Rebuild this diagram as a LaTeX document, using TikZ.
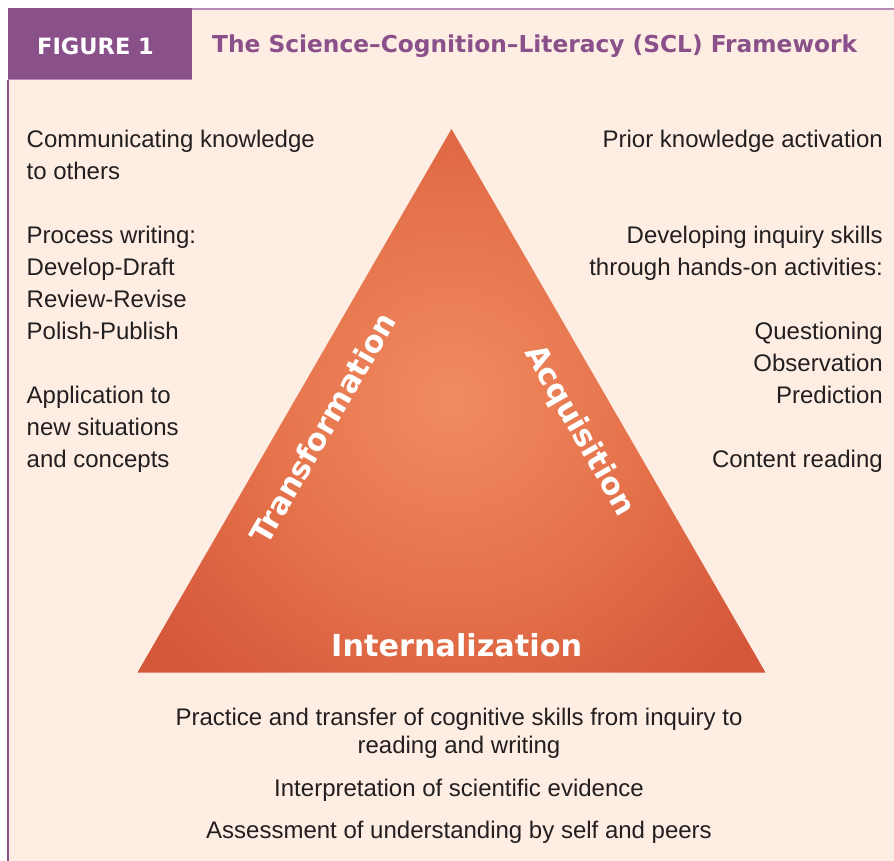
\documentclass[tikz,border=0pt]{standalone}
\usepackage{fontspec}
\setmainfont{Liberation Sans}
\newfontfamily\boldfont{DejaVu Sans Bold}
\definecolor{peach}{HTML}{FDEDE3}
\definecolor{purp}{HTML}{8A5089}
\definecolor{purplight}{HTML}{B88CB4}
\definecolor{txt}{HTML}{231F20}
\definecolor{tricen}{HTML}{F18B61}
\definecolor{trimid}{HTML}{E4714A}
\definecolor{triout}{HTML}{D4573A}
\pgfdeclareradialshading{trishade}{\pgfpoint{0bp}{0bp}}{color(0bp)=(tricen); color(10bp)=(trimid); color(19bp)=(triout); color(25bp)=(triout); color(50bp)=(triout)}
\tikzset{
  body/.style={inner sep=0pt, text=txt, font=\fontsize{24}{28}\selectfont},
  lft/.style={body, anchor=base west},
  rgt/.style={body, anchor=base east},
  ctr/.style={body, anchor=base},
  sidelabel/.style={inner sep=0pt, text=white, font=\boldfont\fontsize{30.3}{36}\selectfont},
}
\begin{document}
\begin{tikzpicture}[x=1pt,y=-1pt]
\useasboundingbox (0,0) rectangle (894,861);
\fill[white] (0,0) rectangle (894,861);
\fill[peach] (8,8) rectangle (894,861);
% header
\fill[purp] (8,8) rectangle (192,80);
\draw[purplight, line width=1pt] (8,80) -- (192,80);
\draw[purplight, line width=1.8pt] (192,9) -- (894,9);
\draw[purp, line width=2pt] (8.3,80) -- (8.3,861);
\node[inner sep=0pt, anchor=base west, text=white, font=\boldfont\fontsize{22.5}{26}\selectfont] (fig) at (37,54.3) {FIGURE 1};
\node[inner sep=0pt, anchor=base west, text=purp, font=\boldfont\fontsize{23.3}{28}\selectfont] (title) at (212,52.7) {The Science\textendash Cognition\textendash Literacy (SCL) Framework};
% triangle
\coordinate (A) at (451.5,129);
\coordinate (B) at (137.5,672.5);
\coordinate (C) at (765.5,672.5);
\begin{scope}
  \clip (A) -- (B) -- (C) -- cycle;
  \shade[shading=trishade] (451.5,400) circle (500pt);
\end{scope}
\node[sidelabel, rotate=60] (trans) at (322.5,428) {Transformation};
\node[sidelabel, rotate=-60] (acq) at (579,431) {Acquisition};
\node[sidelabel, anchor=base] (intern) at (456.7,656) {Internalization};
% left column
\node[lft] (l1) at (26.5,147.5) {Communicating knowledge};
\node[lft] (l2) at (26.5,179.5) {to others};
\node[lft] (l3) at (26.5,243.5) {Process writing:};
\node[lft] (l4) at (26.5,275.5) {Develop-Draft};
\node[lft] (l5) at (26.5,307.5) {Review-Revise};
\node[lft] (l6) at (26.5,339.5) {Polish-Publish};
\node[lft] (l7) at (26.5,403.5) {Application to};
\node[lft] (l8) at (26.5,435.5) {new situations};
\node[lft] (l9) at (26.5,467.5) {and concepts};
% right column
\node[rgt] (r1) at (883,147.5) {Prior knowledge activation};
\node[rgt] (r2) at (883,243.5) {Developing inquiry skills};
\node[rgt] (r3) at (883,275.5) {through hands-on activities:};
\node[rgt] (r4) at (883,339.5) {Questioning};
\node[rgt] (r5) at (883,371.5) {Observation};
\node[rgt] (r6) at (883,403.5) {Prediction};
\node[rgt] (r7) at (883,467.5) {Content reading};
% bottom
\node[ctr] (b1) at (459,725) {Practice and transfer of cognitive skills from inquiry to};
\node[ctr] (b2) at (459,753.5) {reading and writing};
\node[ctr] (b3) at (459,796) {Interpretation of scientific evidence};
\node[ctr] (b4) at (459,838) {Assessment of understanding by self and peers};
\end{tikzpicture}
\end{document}
